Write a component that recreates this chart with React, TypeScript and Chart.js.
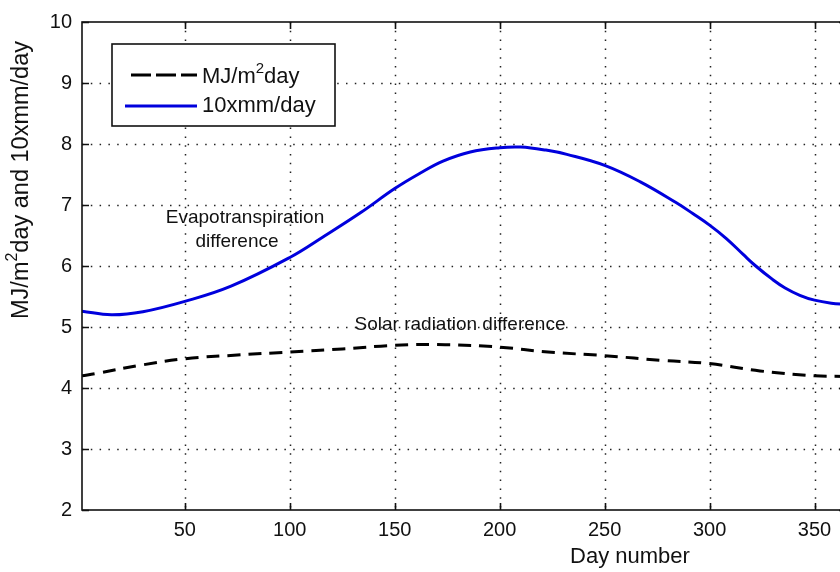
import React, { useEffect, useRef } from 'react';
import { Chart, registerables } from 'chart.js';

Chart.register(...registerables);

// Evapotranspiration difference (10 x mm/day)
const etDays = [1, 15, 30, 50, 72, 100, 116, 134, 150, 162, 173, 186, 200, 210, 222, 232, 250, 267, 284, 292, 300, 308, 316, 322, 330, 336, 343, 350, 358, 365];
const etValues = [5.26, 5.2, 5.25, 5.42, 5.67, 6.14, 6.48, 6.88, 7.27, 7.52, 7.72, 7.87, 7.94, 7.95, 7.9, 7.83, 7.65, 7.38, 7.04, 6.86, 6.67, 6.45, 6.19, 6.0, 5.78, 5.64, 5.52, 5.44, 5.39, 5.37];

// Solar radiation difference (MJ/m2 day)
const srDays = [1, 8, 30, 50, 75, 100, 125, 150, 174, 200, 223, 250, 278, 300, 324, 350, 365];
const srValues = [4.2, 4.24, 4.38, 4.48, 4.54, 4.59, 4.64, 4.7, 4.71, 4.67, 4.59, 4.53, 4.45, 4.4, 4.28, 4.2, 4.19];

const xTicks = [50, 100, 150, 200, 250, 300, 350];
const yTicks = [2, 3, 4, 5, 6, 7, 8, 9, 10];

const xTitle = 'Day number';
const yTitleParts = ['MJ/m', '2', 'day and 10xmm/day'];
const legendLabels = [['MJ/m', '2', 'day'], ['10xmm/day']];
const etNote = ['Evapotranspiration', 'difference'];
const srNote = 'Solar radiation difference';

const FONT = '"Liberation Sans", Arial, sans-serif';
const BLUE = '#0000dd';

function drawSup(ctx: CanvasRenderingContext2D, parts: string[], x: number, y: number, size: number, supSize: number) {
  let cx = x;
  parts.forEach((p, i) => {
    const sup = parts.length > 1 && i === 1;
    ctx.font = `${sup ? supSize : size}px ${FONT}`;
    ctx.fillText(p, cx, sup ? y - size * 0.38 : y);
    cx += ctx.measureText(p).width;
  });
}

function supWidth(ctx: CanvasRenderingContext2D, parts: string[], size: number, supSize: number) {
  let w = 0;
  parts.forEach((p, i) => {
    const sup = parts.length > 1 && i === 1;
    ctx.font = `${sup ? supSize : size}px ${FONT}`;
    w += ctx.measureText(p).width;
  });
  return w;
}

const matlabPlugin = {
  id: 'matlabFrame',
  beforeDatasetsDraw(chart: any) {
    const { ctx, chartArea: a, scales } = chart;
    const xs = scales.x, ys = scales.y;
    ctx.save();
    ctx.strokeStyle = '#222';
    ctx.lineWidth = 1.5;
    ctx.setLineDash([1.5, 7.3]);
    xTicks.forEach((v) => {
      const x = Math.round(xs.getPixelForValue(v)) + 0.5;
      ctx.beginPath();
      ctx.moveTo(x, a.top);
      ctx.lineTo(x, a.bottom);
      ctx.stroke();
    });
    yTicks.slice(1, -1).forEach((v) => {
      const y = Math.round(ys.getPixelForValue(v)) + 0.5;
      ctx.beginPath();
      ctx.moveTo(a.left, y);
      ctx.lineTo(a.right, y);
      ctx.stroke();
    });
    ctx.restore();
  },
  afterDatasetsDraw(chart: any) {
    const { ctx, chartArea: a, scales } = chart;
    const xs = scales.x, ys = scales.y;
    ctx.save();
    // frame
    ctx.setLineDash([]);
    ctx.strokeStyle = '#111';
    ctx.lineWidth = 1.6;
    ctx.strokeRect(a.left, a.top, a.right - a.left, a.bottom - a.top);
    // inner ticks
    const tl = 7;
    xTicks.forEach((v) => {
      const x = Math.round(xs.getPixelForValue(v)) + 0.5;
      ctx.beginPath();
      ctx.moveTo(x, a.bottom); ctx.lineTo(x, a.bottom - tl);
      ctx.moveTo(x, a.top); ctx.lineTo(x, a.top + tl);
      ctx.stroke();
    });
    yTicks.forEach((v) => {
      const y = Math.round(ys.getPixelForValue(v)) + 0.5;
      ctx.beginPath();
      ctx.moveTo(a.left, y); ctx.lineTo(a.left + tl, y);
      ctx.moveTo(a.right, y); ctx.lineTo(a.right - tl, y);
      ctx.stroke();
    });

    // annotations
    ctx.fillStyle = '#111';
    ctx.textAlign = 'center';
    ctx.textBaseline = 'middle';
    ctx.font = `19px ${FONT}`;
    ctx.fillText(etNote[0], 245, 218);
    ctx.fillText(etNote[1], 237, 242);
    ctx.fillText(srNote, 460, 325);

    // legend
    ctx.fillStyle = '#fff';
    ctx.fillRect(112, 44, 223, 82);
    ctx.strokeStyle = '#111';
    ctx.lineWidth = 1.6;
    ctx.strokeRect(112, 44, 223, 82);
    ctx.lineWidth = 3;
    ctx.strokeStyle = '#000';
    ctx.setLineDash([20, 5]);
    ctx.beginPath();
    ctx.moveTo(131, 75); ctx.lineTo(197, 75);
    ctx.stroke();
    ctx.setLineDash([]);
    ctx.strokeStyle = BLUE;
    ctx.beginPath();
    ctx.moveTo(125, 106); ctx.lineTo(197, 106);
    ctx.stroke();
    ctx.fillStyle = '#111';
    ctx.textAlign = 'left';
    drawSup(ctx, legendLabels[0], 202, 77, 22, 15);
    drawSup(ctx, legendLabels[1], 202, 106, 22, 15);

    // x title
    ctx.textAlign = 'center';
    ctx.font = `22px ${FONT}`;
    ctx.fillText(xTitle, 630, 557);

    // y title
    ctx.save();
    ctx.translate(22, 180);
    ctx.rotate(-Math.PI / 2);
    ctx.textAlign = 'left';
    const w = supWidth(ctx, yTitleParts, 23.5, 16);
    drawSup(ctx, yTitleParts, -w / 2, 0, 23.5, 16);
    ctx.restore();

    ctx.restore();
  },
};

export default function App() {
  const ref = useRef<HTMLCanvasElement | null>(null);
  useEffect(() => {
    document.body.style.margin = '0';
    const canvas = ref.current!;
    const chart = new Chart(canvas, {
      type: 'line',
      data: {
        datasets: [
          {
            label: 'MJ/m2day',
            data: srDays.map((d, i) => ({ x: d, y: srValues[i] })),
            borderColor: '#000',
            borderWidth: 3,
            borderDash: [13, 8],
            pointRadius: 0,
            tension: 0.4,
            fill: false,
          },
          {
            label: '10xmm/day',
            data: etDays.map((d, i) => ({ x: d, y: etValues[i] })),
            borderColor: BLUE,
            borderWidth: 3,
            pointRadius: 0,
            tension: 0.4,
            fill: false,
          },
        ],
      },
      options: {
        responsive: false,
        devicePixelRatio: 1,
        animation: false,
        layout: { padding: { top: 16, right: 14, left: 0, bottom: 0 } },
        plugins: { legend: { display: false }, tooltip: { enabled: false } },
        scales: {
          x: {
            type: 'linear',
            min: 1,
            max: 365,
            grid: { display: false, drawTicks: false },
            border: { display: false },
            ticks: { color: '#111', font: { family: FONT, size: 20 }, padding: 8, maxRotation: 0 },
            afterBuildTicks: (s: any) => { s.ticks = xTicks.map((v) => ({ value: v })); },
            afterFit: (s: any) => { s.height = 62; },
          },
          y: {
            type: 'linear',
            min: 2,
            max: 10,
            grid: { display: false, drawTicks: false },
            border: { display: false },
            ticks: { color: '#111', font: { family: FONT, size: 20 }, padding: 10 },
            afterBuildTicks: (s: any) => { s.ticks = yTicks.map((v) => ({ value: v })); },
            afterFit: (s: any) => { s.width = 82; },
          },
        },
      },
      plugins: [matlabPlugin],
    } as any);
    return () => chart.destroy();
  }, []);
  return (
    <div style={{ position: 'absolute', left: 0, top: 0, width: 840, height: 572, overflow: 'hidden', background: '#fff' }}>
      <canvas ref={ref} width={860} height={572} style={{ display: 'block' }} />
    </div>
  );
}
